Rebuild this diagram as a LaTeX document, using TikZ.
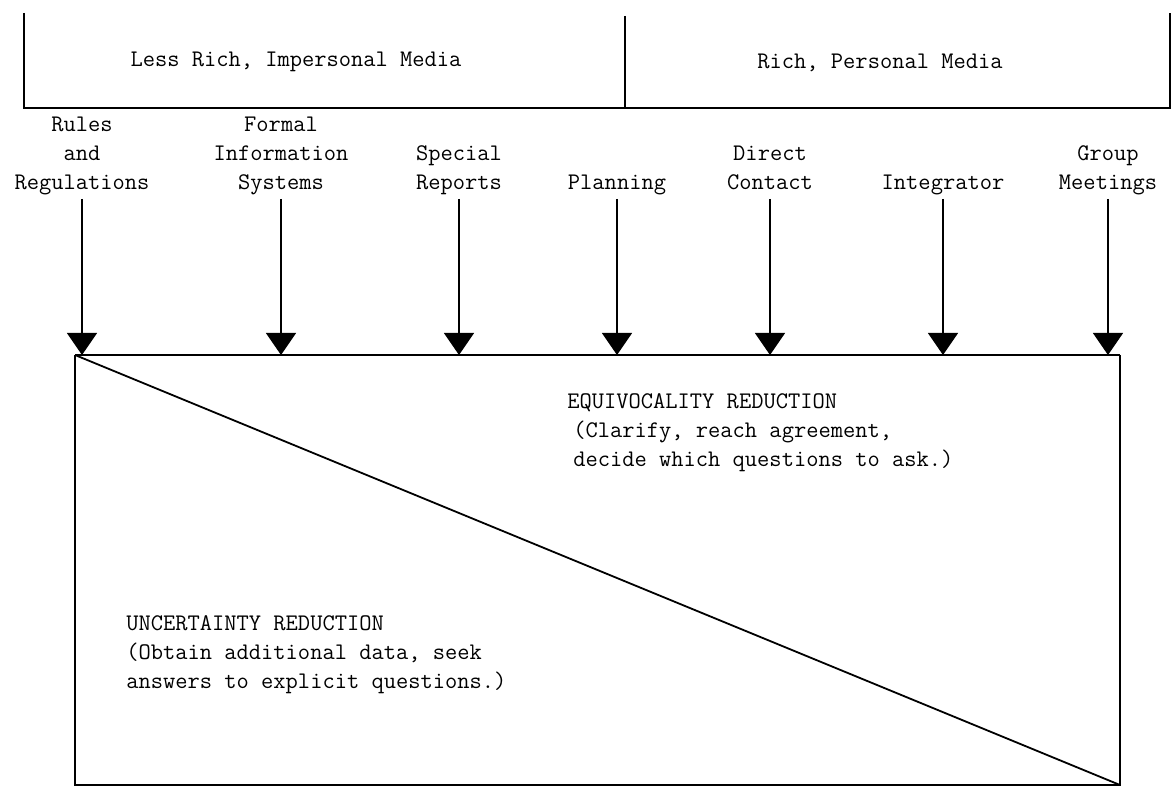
\documentclass[tikz,border=0pt]{standalone}
\usepackage{fontspec}
\usepackage{tikz}
\usetikzlibrary{arrows.meta}
\usetikzlibrary{positioning}
\newcommand{\typefont}{\ttfamily\fontsize{11.9}{14.6}\selectfont}
\tikzstyle{every node}+=[inner sep=0pt]
\tikzstyle{medium} = [font=\typefont, anchor=base]
\tikzstyle{source} = [font=\typefont, align=center, anchor=south]
\tikzstyle{note} = [font=\typefont, align=left, anchor=north west]
\tikzstyle{line} = [draw, line width=0.6pt, -{Triangle[width=15pt,length=11pt]}]
\tikzstyle{frame} = [draw, line width=0.7pt]
\tikzstyle{bar} = [draw, line width=1.3pt]

\begin{document}
\begin{tikzpicture}[x=0.5pt, y=-0.5pt]
            \useasboundingbox (0,0) rectangle (1173,791);
            % Media brackets
            \draw[frame] (24,13) -- (24,108) -- (1170,108) -- (1170,13);
            \draw[frame] (625,16) -- (625,108);
            \node [medium] (less) at (296,67) {Less Rich, Impersonal Media};
            \node [medium] (rich) at (880,69) {Rich, Personal Media};
            % Place nodes
            \node [source] (rules) at (82,199) {Rules\\and\\Regulations\strut};
            \node [source] (formal) at (281,199) {Formal\\Information\\Systems\strut};
            \node [source] (special) at (459,199) {Special\\Reports\strut};
            \node [source] (planning) at (617,199) {Planning\strut};
            \node [source] (direct) at (770,199) {Direct\\Contact\strut};
            \node [source] (integr) at (943,199) {Integrator\strut};
            \node [source] (group) at (1108,199) {Group\\Meetings\strut};
            % Reduction box
            \coordinate (nw) at (75,355);
            \coordinate (ne) at (1120,355);
            \coordinate (sw) at (75,785);
            \coordinate (se) at (1120,785);
            \draw[frame] (ne) -- (se) -- (sw) -- (nw);
            \draw[bar] (nw) -- (ne);
            \draw[line width=0.9pt] (nw) -- (se);
            \node [note] (equiv) at (567,393) {EQUIVOCALITY REDUCTION\\\hspace*{3pt}(Clarify, reach agreement,\\\hspace*{3pt}decide which questions to ask.)};
            \node [note] (uncert) at (126,615) {UNCERTAINTY REDUCTION\\(Obtain additional data, seek\\answers to explicit questions.)};
            % Draw edges
            \path [line] (rules) -- (rules |- nw);
            \path [line] (formal) -- (formal |- nw);
            \path [line] (special) -- (special |- nw);
            \path [line] (planning) -- (planning |- nw);
            \path [line] (direct) -- (direct |- nw);
            \path [line] (integr) -- (integr |- nw);
            \path [line] (group) -- (group |- nw);
\end{tikzpicture}
\end{document}
